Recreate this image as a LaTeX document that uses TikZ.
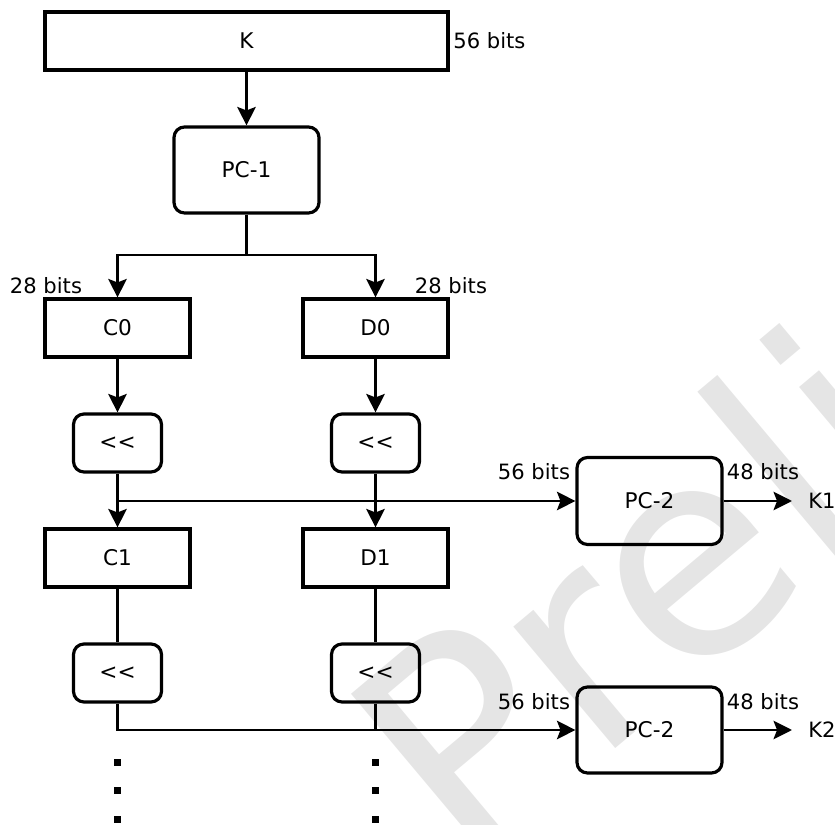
\documentclass[tikz,border=0pt]{standalone}
\usepackage{fontspec}
\setmainfont{DejaVu Sans}
\usetikzlibrary{arrows.meta,positioning,calc}
\tikzset{>={Stealth[length=10.5pt,width=10.5pt,inset=2pt]}}

\begin{document}
\begin{tikzpicture}[
   blk/.style={draw,line width=1.8pt,minimum width=2.9cm,minimum height=1.16cm,inner sep=0,font=\fontsize{12.3}{14}\selectfont},
   rbox/.style={blk,rounded corners=6pt},
   sh/.style={rbox,minimum width=1.76cm},
   ln/.style={line width=1.5pt},
   up/.style={->,line width=1.5pt},
   lbl/.style={font=\fontsize{12}{14}\selectfont,inner sep=0},
   dot/.style={fill=black,minimum size=0.14cm,inner sep=0}]
  \useasboundingbox (0,0) rectangle (16.7,16.5);
  % watermark
  \begin{scope}
    \clip (0,0) rectangle (16.7,16.5);
    \node[anchor=base west,rotate=40,inner sep=0,text=black!10,font=\fontsize{165}{165}\selectfont] (wm) at (9.3,-1.0) {Preliminary};
  \end{scope}
  \node[blk,minimum width=8.06cm] (k) at (4.93,15.68) {K};
  \node[lbl,anchor=west] (kb) at (9.06,15.68) {56 bits};
  \node[rbox,minimum height=1.72cm] (pc1) at (4.93,13.10) {PC-1};
  \coordinate (split) at (4.93,11.40);
  \node[blk] (c0) at (2.35,9.94) {C0};
  \node[blk] (d0) at (7.51,9.94) {D0};
  \node[lbl] (cb) at (0.92,10.78) {28 bits};
  \node[lbl] (db) at (9.02,10.78) {28 bits};
  \node[sh] (sc0) at (2.35,7.64) {{<}{<}};
  \node[sh] (sd0) at (7.51,7.64) {{<}{<}};
  \node[rbox,minimum height=1.74cm] (pa) at (12.99,6.48) {PC-2};
  \node[lbl] (pain) at (10.68,7.06) {56 bits};
  \node[lbl] (paout) at (15.26,7.06) {48 bits};
  \node[lbl,anchor=west] (k1) at (16.16,6.48) {K1};
  \node[blk] (c1) at (2.35,5.34) {C1};
  \node[blk] (d1) at (7.51,5.34) {D1};
  \node[sh] (sc1) at (2.35,3.04) {{<}{<}};
  \node[sh] (sd1) at (7.51,3.04) {{<}{<}};
  \node[rbox,minimum height=1.72cm] (pb) at (12.99,1.90) {PC-2};
  \node[lbl] (pbin) at (10.68,2.46) {56 bits};
  \node[lbl] (pbout) at (15.26,2.46) {48 bits};
  \node[lbl,anchor=west] (k2) at (16.16,1.90) {K2};
  \foreach \x/\n in {2.35/c,7.51/d}
    \foreach \y/\m in {1.24/1,0.68/2,0.10/3}
      \node[dot] (dot\n\m) at (\x,\y) {};
  \draw[up] (k.south) -- (pc1.north);
  \draw[ln] (pc1.south) -- (split);
  \draw[up] (split) -| (c0.north);
  \draw[up] (split) -| (d0.north);
  \draw[up] (c0.south) -- (sc0.north);
  \draw[up] (d0.south) -- (sd0.north);
  \draw[up] (sc0.south) -- (c1.north);
  \draw[up] (sd0.south) -- (d1.north);
  \draw[up] (sc0.south |- pa.west) -- (pa.west);
  \draw[up,shorten >=0.32cm] (pa.east) -- (k1.west);
  \draw[ln] (c1.south) -- (sc1.north);
  \draw[ln] (d1.south) -- (sd1.north);
  \draw[up] (sc1.south) |- (pb.west);
  \draw[ln] (sd1.south) -- (sd1.south |- pb.west);
  \draw[up,shorten >=0.32cm] (pb.east) -- (k2.west);
\end{tikzpicture}
\end{document}
